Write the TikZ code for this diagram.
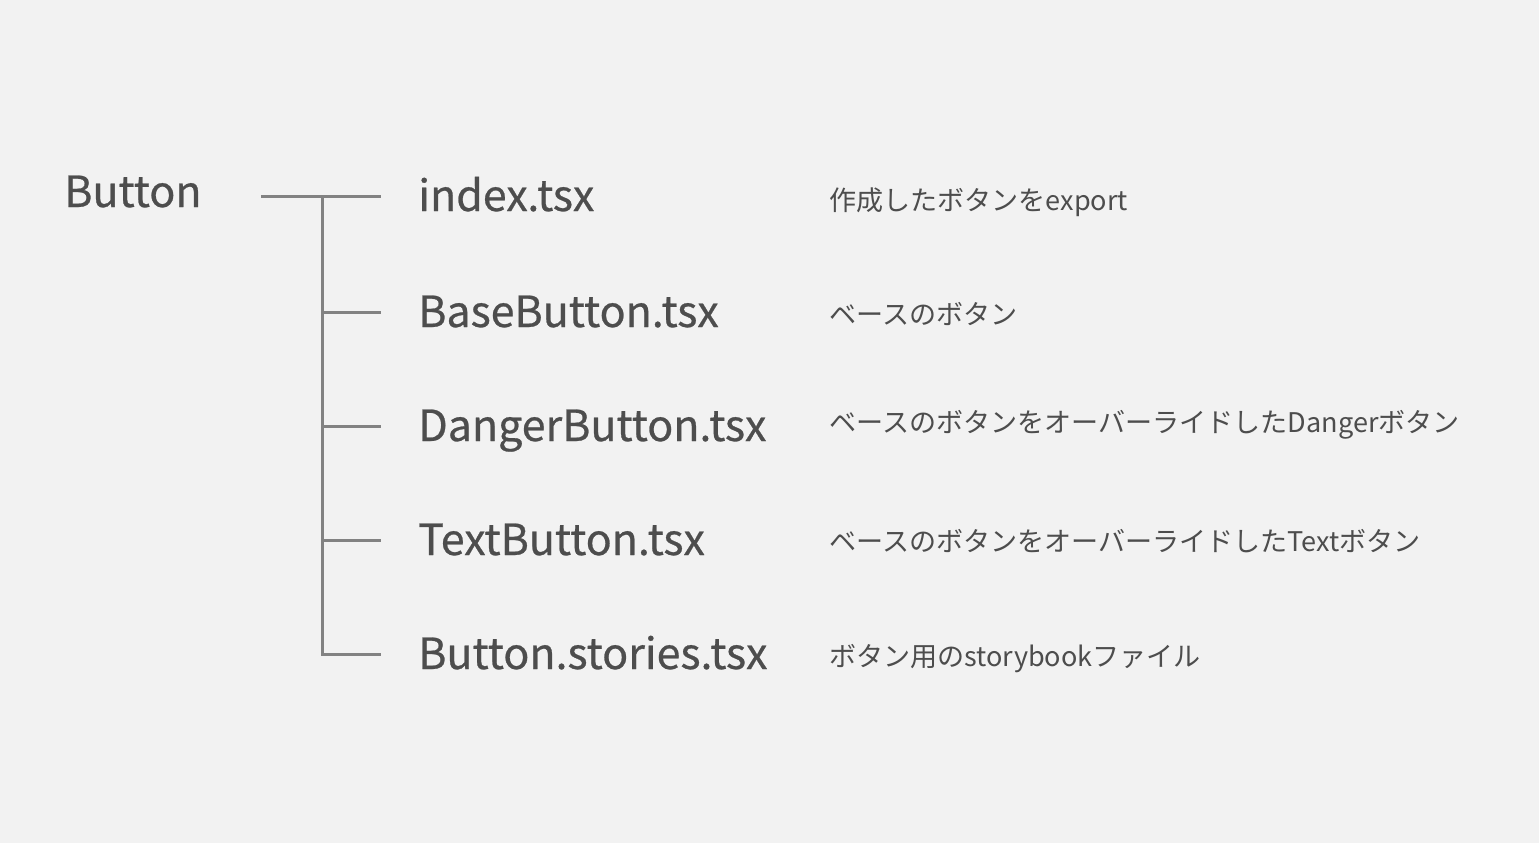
\documentclass[tikz,border=0pt]{standalone}
\usepackage{fontspec}
\setmainfont{Noto Sans CJK JP}
\newfontfamily\filefont[FakeBold=0.6]{Noto Sans CJK JP}
\definecolor{bg}{HTML}{F2F2F2}
\definecolor{txt}{HTML}{4D4D4D}
\definecolor{ln}{HTML}{828282}
\tikzset{
  filename/.style={anchor=base west, inner sep=0pt, text=txt, font=\filefont\fontsize{32.2}{40}\selectfont},
  desc/.style={anchor=base west, inner sep=0pt, text=txt, font=\fontsize{20.3}{24}\selectfont},
  branch/.style={draw=ln, line width=2.25pt, line join=miter},
}
\begin{document}
\begin{tikzpicture}[x=0.75pt,y=-0.75pt]
\fill[bg] (0,0) rectangle (1539,843);
\useasboundingbox (0,0) rectangle (1539,843);
\node[filename] (root) at (64,207) {Button};
\node[filename] (f0) at (418,211) {index.tsx};
\node[filename] (f1) at (418,327) {BaseButton.tsx};
\node[filename] (f2) at (418,441) {DangerButton.tsx};
\node[filename] (f3) at (418,555) {TextButton.tsx};
\node[filename] (f4) at (418,669) {Button.stories.tsx};
\node[desc] (d0) at (829,210) {作成したボタンをexport};
\node[desc] (d1) at (829,324) {ベースのボタン};
\node[desc] (d2) at (829,432) {ベースのボタンをオーバーライドしたDangerボタン};
\node[desc] (d3) at (829,551) {ベースのボタンをオーバーライドしたTextボタン};
\node[desc] (d4) at (829,666) {ボタン用のstorybookファイル};
\coordinate (r) at (261,196);
\coordinate (j0) at (322,196);
\coordinate (j1) at (322,312);
\coordinate (j2) at (322,426);
\coordinate (j3) at (322,540);
\coordinate (e0) at (381,196);
\coordinate (e1) at (381,312);
\coordinate (e2) at (381,426);
\coordinate (e3) at (381,540);
\coordinate (e4) at (381,654);
\draw[branch] (r) -- (e0);
\draw[branch] (j0) |- (e4);
\draw[branch] (j1) -- (e1);
\draw[branch] (j2) -- (e2);
\draw[branch] (j3) -- (e3);
\end{tikzpicture}
\end{document}
